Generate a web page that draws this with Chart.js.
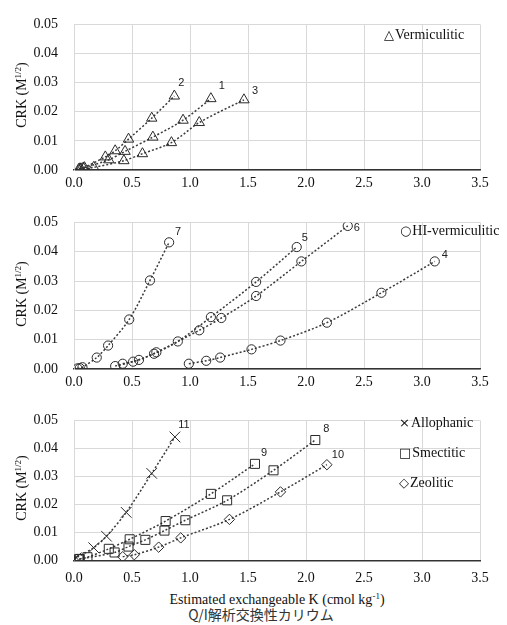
<!DOCTYPE html>
<html><head><meta charset="utf-8">
<script src="https://cdn.jsdelivr.net/npm/chart.js@4/dist/chart.umd.min.js"></script>
<style>
body{margin:0;background:#fff;width:507px;height:625px;position:relative;overflow:hidden;font-family:"Liberation Serif","Times New Roman",serif;color:#111}
canvas{position:absolute;left:0}
.ytitle{position:absolute;font-size:14px;white-space:nowrap;transform:translate(-50%,-50%) rotate(-90deg);line-height:1}
.sup{font-size:9px;position:relative;top:-5px}
.leg{position:absolute;font-size:14px;white-space:nowrap;line-height:14px;transform:translateY(-50%)}
.sym{font-family:"DejaVu Sans",sans-serif;font-size:13px;margin-right:1px}
.xt{position:absolute;font-size:14px;white-space:nowrap;transform:translate(-50%,-50%);line-height:1}
.jp{position:absolute;font-size:14px;white-space:nowrap;transform:translate(-50%,-50%);font-family:"Noto Sans CJK JP",sans-serif;color:#333;line-height:1}
</style></head>
<body>
<canvas id="c1" width="507" height="196" style="top:0px"></canvas>
<canvas id="c2" width="507" height="198" style="top:198px"></canvas>
<canvas id="c3" width="507" height="189" style="top:396px"></canvas>

<div class="ytitle" style="left:22px;top:95px">CRK (M<span class="sup">1/2</span>)</div>
<div class="ytitle" style="left:22px;top:294px">CRK (M<span class="sup">1/2</span>)</div>
<div class="ytitle" style="left:22px;top:488px">CRK (M<span class="sup">1/2</span>)</div>

<div class="leg" style="left:384px;top:35px"><span class="sym">△</span>Vermiculitic</div>
<div class="leg" style="left:400px;top:231px"><span class="sym">○</span>HI-vermiculitic</div>
<div class="leg" style="left:399px;top:423px"><span class="sym">×</span>Allophanic</div>
<div class="leg" style="left:399px;top:453px"><span class="sym">□</span>Smectitic</div>
<div class="leg" style="left:399px;top:483px"><span class="sym">◇</span>Zeolitic</div>

<div class="xt" style="left:277px;top:600px">Estimated exchangeable K (cmol kg<span class="sup">-1</span>)</div>
<div class="jp" style="left:261px;top:614px">Q/I解析交換性カリウム</div>

<script>
// ---- data ----
const xTicks = [0.0, 0.5, 1.0, 1.5, 2.0, 2.5, 3.0, 3.5];
const yTicks = [0.00, 0.01, 0.02, 0.03, 0.04, 0.05];

// Vermiculitic
const s1Label = '1';
const s1X = [0.06, 0.09, 0.30, 0.44, 0.68, 0.94, 1.18];
const s1Y = [0.0004, 0.0008, 0.0035, 0.0064, 0.0113, 0.0171, 0.0245];
const s2Label = '2';
const s2X = [0.05, 0.08, 0.27, 0.355, 0.47, 0.67, 0.865];
const s2Y = [0.0004, 0.0007, 0.0045, 0.0066, 0.0106, 0.0178, 0.0254];
const s3Label = '3';
const s3X = [0.04, 0.17, 0.43, 0.59, 0.84, 1.08, 1.465];
const s3Y = [0.0002, 0.0009, 0.0032, 0.0056, 0.0094, 0.0163, 0.0241];

// HI-vermiculitic
const s4Label = '4';
const s4X = [0.99, 1.14, 1.26, 1.53, 1.78, 2.18, 2.65, 3.11];
const s4Y = [0.0018, 0.0028, 0.0039, 0.0067, 0.0097, 0.0158, 0.0260, 0.0367];
const s5Label = '5';
const s5X = [0.355, 0.51, 0.69, 0.895, 1.18, 1.57, 1.92];
const s5Y = [0.0010, 0.0025, 0.0052, 0.0094, 0.0177, 0.0297, 0.0416];
const s6Label = '6';
const s6X = [0.42, 0.56, 0.71, 1.08, 1.27, 1.57, 1.96, 2.36];
const s6Y = [0.0018, 0.0031, 0.0057, 0.0132, 0.0174, 0.0249, 0.0367, 0.0488];
const s7Label = '7';
const s7X = [0.03, 0.05, 0.073, 0.196, 0.294, 0.476, 0.655, 0.82];
const s7Y = [0.0002, 0.0003, 0.0006, 0.0039, 0.0080, 0.0169, 0.0302, 0.0432];

// Allophanic / Smectitic / Zeolitic
const s8Label = '8';
const s8X = [0.043, 0.35, 0.47, 0.615, 0.78, 0.96, 1.32, 1.72, 2.08];
const s8Y = [0.0005, 0.0029, 0.0050, 0.0074, 0.0107, 0.0144, 0.0215, 0.0322, 0.0430];
const s9Label = '9';
const s9X = [0.05, 0.116, 0.30, 0.48, 0.79, 1.18, 1.56];
const s9Y = [0.0006, 0.0012, 0.0042, 0.0076, 0.0141, 0.0238, 0.0345];
const s10Label = '10';
const s10X = [0.42, 0.52, 0.73, 0.92, 1.34, 1.78, 2.18];
const s10Y = [0.0014, 0.0021, 0.0048, 0.0081, 0.0147, 0.0245, 0.0342];
const s11Label = '11';
const s11X = [0.0, 0.02, 0.17, 0.28, 0.45, 0.67, 0.87];
const s11Y = [0.0005, 0.0010, 0.0046, 0.0087, 0.0172, 0.0311, 0.0441];

// ---- styling ----
const SERIF = '"Liberation Serif","Times New Roman",serif';
const SANS = '"Liberation Sans",Arial,sans-serif';
const LINE = '#3a3a3a';
const GRID = '#d9d9d9';

const markerStyle = {
  triangle: {pointStyle:'triangle', radius:6},
  circle:   {pointStyle:'circle', radius:4.6},
  rect:     {pointStyle:'rect', radius:6.4},
  rectRot:  {pointStyle:'rectRot', radius:5.2},
  crossRot: {pointStyle:'crossRot', radius:7.5}
};
// label offsets (px) relative to last point of each series
const labelOffset = {
  '1':[11,-13], '2':[7,-13], '3':[11,-9],
  '4':[10,-6], '5':[8,-9], '6':[9,2], '7':[9,-10],
  '8':[11,-11], '9':[9,-11], '10':[11,-10], '11':[9,-12]
};

function ds(label, xs, ys, marker) {
  const m = markerStyle[marker];
  return {
    label: label,
    data: xs.map((x, i) => ({x: x, y: ys[i]})),
    showLine: true,
    borderColor: LINE,
    borderWidth: 1.5,
    borderDash: [2, 2],
    tension: 0.3,
    pointStyle: m.pointStyle,
    pointRadius: m.radius,
    pointHoverRadius: m.radius,
    pointBorderColor: '#2a2a2a',
    pointBorderWidth: 1,
    pointBackgroundColor: 'rgba(0,0,0,0)'
  };
}

const seriesLabelPlugin = {
  id: 'seriesLabels',
  afterDatasetsDraw(chart) {
    const ctx = chart.ctx;
    ctx.save();
    ctx.font = '11px ' + SANS;
    ctx.fillStyle = '#222';
    ctx.textAlign = 'center';
    ctx.textBaseline = 'middle';
    chart.data.datasets.forEach((d, i) => {
      const meta = chart.getDatasetMeta(i);
      const pt = meta.data[meta.data.length - 1];
      const off = labelOffset[d.label] || [8, -10];
      ctx.fillText(d.label, pt.x + off[0], pt.y + off[1]);
    });
    ctx.restore();
  }
};

function makeChart(id, datasets, padTop, xHeight, xPad) {
  return new Chart(document.getElementById(id), {
    type: 'scatter',
    data: {datasets: datasets},
    plugins: [seriesLabelPlugin],
    options: {
      responsive: false,
      animation: false,
      layout: {padding: {top: padTop, right: 27, left: 0, bottom: 0}},
      plugins: {legend: {display: false}, tooltip: {enabled: false}},
      scales: {
        x: {
          type: 'linear', min: xTicks[0], max: xTicks[xTicks.length - 1],
          afterBuildTicks: s => { s.ticks = xTicks.map(v => ({value: v})); },
          ticks: {callback: v => Number(v).toFixed(1), font: {family: SERIF, size: 14}, color: '#111', padding: xPad, maxRotation: 0, autoSkip: false},
          grid: {color: GRID, drawTicks: false, lineWidth: 1},
          border: {color: '#333', width: 1.5},
          afterFit: s => { s.height = xHeight; }
        },
        y: {
          type: 'linear', min: yTicks[0], max: yTicks[yTicks.length - 1],
          afterBuildTicks: s => { s.ticks = yTicks.map(v => ({value: v})); },
          ticks: {callback: v => Number(v).toFixed(2), font: {family: SERIF, size: 14}, color: '#111', padding: 16},
          grid: {color: GRID, drawTicks: false, lineWidth: 1},
          border: {color: GRID, width: 1},
          afterFit: s => { s.width = 74; }
        }
      }
    }
  });
}

makeChart('c1', [
  ds(s1Label, s1X, s1Y, 'triangle'),
  ds(s2Label, s2X, s2Y, 'triangle'),
  ds(s3Label, s3X, s3Y, 'triangle')
], 19, 26, 5);

makeChart('c2', [
  ds(s4Label, s4X, s4Y, 'circle'),
  ds(s5Label, s5X, s5Y, 'circle'),
  ds(s6Label, s6X, s6Y, 'circle'),
  ds(s7Label, s7X, s7Y, 'circle')
], 21, 27, 5);

makeChart('c3', [
  ds(s8Label, s8X, s8Y, 'rect'),
  ds(s9Label, s9X, s9Y, 'rect'),
  ds(s10Label, s10X, s10Y, 'rectRot'),
  ds(s11Label, s11X, s11Y, 'crossRot')
], 17, 23, 9);
</script>
</body></html>
